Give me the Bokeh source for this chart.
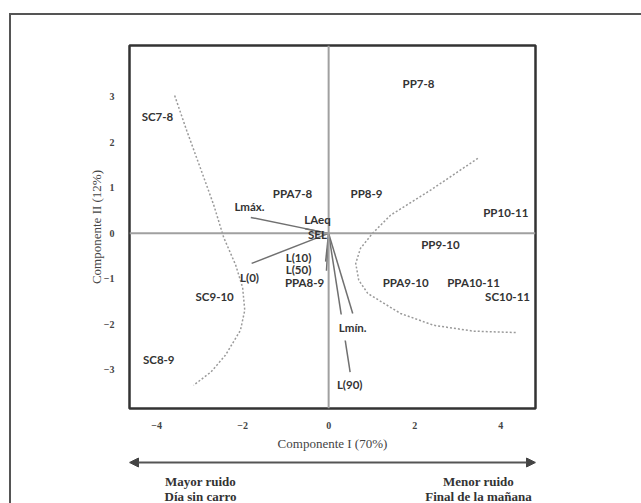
from bokeh.plotting import figure
from bokeh.layouts import column
from bokeh.models import (ColumnDataSource, LabelSet, Label, Arrow, NormalHead,
                          Span, FixedTicker, Range1d)
from bokeh.core.properties import value
from bokeh.embed import file_html
from bokeh.resources import INLINE

# ---- observations (scores) ----
obs_names = ["SC7-8", "SC8-9", "SC9-10", "SC10-11",
             "PP7-8", "PP8-9", "PP9-10", "PP10-11",
             "PPA7-8", "PPA8-9", "PPA9-10", "PPA10-11"]
obs_x = [-3.98, -3.95, -2.65, 4.16, 2.09, 0.88, 2.60, 4.12, -0.84, -0.56, 1.79, 3.37]
obs_y = [2.57, -2.77, -1.38, -1.38, 3.30, 0.88, -0.24, 0.46, 0.88, -1.08, -1.08, -1.08]

# ---- variables (loadings) ----
var_names = ["Lmáx.", "LAeq", "SEL", "L(0)", "L(10)", "L(50)", "Lmín.", "L(90)"]
var_x = [-1.81, -0.55, -0.15, -1.79, -0.07, -0.05, 0.56, 0.50]
var_y = [0.35, 0.10, -0.02, -0.66, -0.62, -0.82, -1.76, -3.05]
var_lx = [-1.84, -0.26, -0.26, -1.84, -0.70, -0.70, 0.56, 0.49]
var_ly = [0.59, 0.31, -0.02, -0.97, -0.53, -0.79, -2.07, -3.32]

# ---- hand-drawn grouping curves ----
left_cx = [-3.58, -3.30, -2.98, -2.67, -2.44, -2.16, -2.00, -1.95, -2.05, -2.40, -2.74, -3.14]
left_cy = [3.03, 2.26, 1.43, 0.62, -0.09, -0.70, -1.19, -1.69, -2.13, -2.68, -3.05, -3.34]
right_cx = [3.47, 2.37, 1.44, 1.02, 0.74, 0.63, 0.70, 0.91, 1.67, 2.44, 3.37, 4.35]
right_cy = [1.65, 0.95, 0.40, 0.0, -0.33, -0.66, -1.03, -1.32, -1.76, -2.02, -2.15, -2.18]

x_ticks = [-4, -2, 0, 2, 4]
y_ticks = [-3, -2, -1, 0, 1, 2, 3]

x_title = "Componente I (70%)"
y_title = "Componente II (12%)"
left_note = ["Mayor ruido", "Día sin carro"]
right_note = ["Menor ruido", "Final de la mañana"]

W = 630
p = figure(width=W, height=439, output_backend="svg", toolbar_location=None,
           x_range=Range1d(-4.63, 4.81), y_range=Range1d(-3.85, 4.13),
           min_border_left=118, min_border_right=106, min_border_top=30,
           min_border_bottom=46)
p.background_fill_color = "white"
p.border_fill_color = "white"
p.outline_line_color = "#333333"
p.outline_line_width = 2.5
p.grid.visible = False

for ax in (p.xaxis[0], p.yaxis[0]):
    ax.axis_line_color = None
    ax.major_tick_line_color = None
    ax.minor_tick_line_color = None
    ax.major_label_text_font = "Liberation Serif"
    ax.major_label_text_font_style = "bold"
    ax.major_label_text_font_size = "10px"
    ax.major_label_text_color = "#444444"
    ax.axis_label_text_font = "Liberation Serif"
    ax.axis_label_text_font_style = "normal"
    ax.axis_label_text_font_size = "13px"
    ax.axis_label_text_color = "#444444"

p.xaxis.ticker = FixedTicker(ticks=x_ticks)
p.yaxis.ticker = FixedTicker(ticks=y_ticks)
p.xaxis.axis_label = x_title
p.yaxis.axis_label = y_title
p.xaxis.major_label_standoff = 7
p.xaxis.axis_label_standoff = 4
p.yaxis.major_label_standoff = 9
p.yaxis.axis_label_standoff = -3
p.yaxis.major_label_orientation = "horizontal"

# zero lines
p.add_layout(Span(location=0, dimension="width", line_color="#a0a0a0", line_width=2, level="glyph"))
p.add_layout(Span(location=0, dimension="height", line_color="#a0a0a0", line_width=2, level="glyph"))

# curves
p.line(left_cx, left_cy, line_color="#9a9a9a", line_width=1.5, line_dash="2 2")
p.line(right_cx, right_cy, line_color="#9a9a9a", line_width=1.5, line_dash="2 2")

# vectors
vsrc = ColumnDataSource(dict(x0=[0] * len(var_x), y0=[0] * len(var_y), x1=var_x, y1=var_y))
p.segment(x0="x0", y0="y0", x1="x1", y1="y1", source=vsrc, line_color="#707070", line_width=1.5)

font = value("Lato")
osrc = ColumnDataSource(dict(x=obs_x, y=obs_y, t=obs_names))
p.add_layout(LabelSet(x="x", y="y", text="t", source=osrc, text_align="center",
                      text_baseline="middle", text_font=font, text_font_style="bold",
                      text_font_size="11.5px", text_color="#333333"))

# white box behind the "Lmín." label (it interrupts the lines in the original)
idx_bg = [i for i, n in enumerate(var_names) if n == "Lmín."]
bg_src = ColumnDataSource(dict(x=[var_lx[i] for i in idx_bg], y=[var_ly[i] for i in idx_bg]))
p.rect(x="x", y="y", width=60, height=26, width_units="screen", height_units="screen",
       source=bg_src, fill_color="white", line_color=None)

vl = ColumnDataSource(dict(x=var_lx, y=var_ly, t=var_names))
p.add_layout(LabelSet(x="x", y="y", text="t", source=vl, text_align="center",
                      text_baseline="middle", text_font=font, text_font_style="bold",
                      text_font_size="11.5px", text_color="#333333"))

# ---- bottom strip: double arrow and notes (frame aligned with the chart frame) ----
QH = 49
FW = 406
q = figure(width=W, height=QH, output_backend="svg", toolbar_location=None,
           x_range=Range1d(0, FW), y_range=Range1d(0, QH),
           min_border=0, x_axis_location=None, y_axis_location=None)
q.outline_line_color = None
q.grid.visible = False
q.background_fill_color = "white"
q.border_fill_color = "white"
q.add_layout(Arrow(start=NormalHead(size=9, fill_color="#444444", line_color="#444444"),
                   end=NormalHead(size=9, fill_color="#444444", line_color="#444444"),
                   x_start=0, y_start=41, x_end=FW, y_end=41,
                   line_color="#555555", line_width=2))
for i, (lt, rt) in enumerate(zip(left_note, right_note)):
    yy = 22 - 15 * i
    for xx, t in ((71, lt), (349, rt)):
        q.add_layout(Label(x=xx, y=yy, text=t, text_align="center", text_baseline="middle",
                           text_font="Liberation Serif", text_font_style="bold",
                           text_font_size="13px", text_color="#333333"))

layout = column(p, q, spacing=0, margin=(13, 0, 0, 9),
                styles={"border-left": "2px solid #555555", "border-top": "2px solid #555555"})

open("out.html", "w").write(file_html(layout, INLINE))
